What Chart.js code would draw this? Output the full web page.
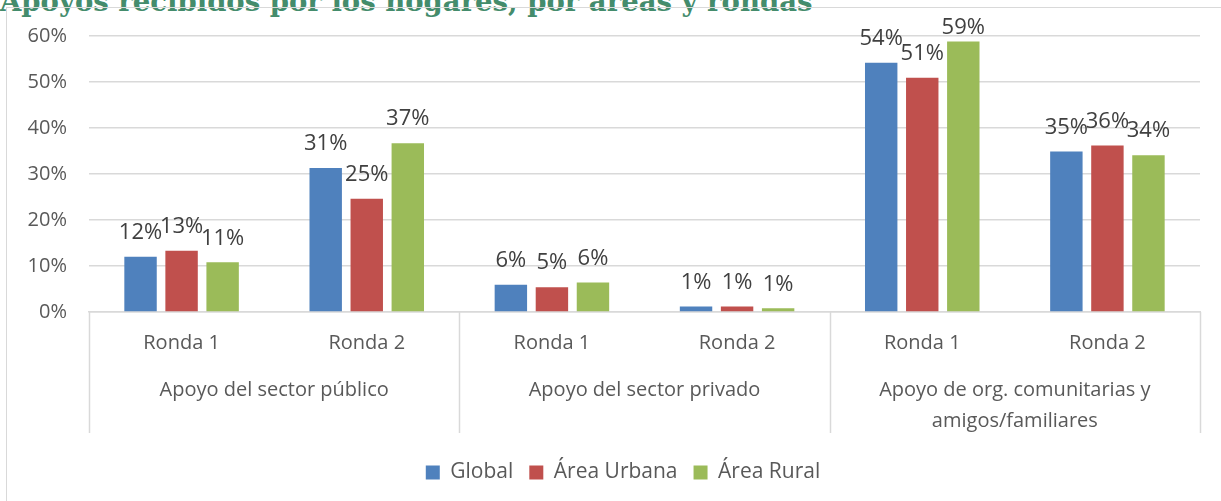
<!DOCTYPE html>
<html lang="es">
<head>
<meta charset="utf-8">
<title>Apoyos recibidos por los hogares</title>
<script src="https://cdn.jsdelivr.net/npm/chart.js@4.4.1/dist/chart.umd.min.js"></script>
<style>
  html, body { margin: 0; padding: 0; background: #fff; overflow: hidden; }
  #titulo {
    position: absolute; left: 0; top: -12px; margin: 0;
    font-family: "DejaVu Serif", serif; font-weight: bold; font-size: 27.5px;
    line-height: 27px; color: #448c6c; white-space: nowrap;
  }
  #marco {
    position: absolute; left: 6px; top: 7px; width: 1300px; height: 600px;
    border: 1px solid #d9d9d9;
  }
  #contenedor { position: absolute; left: 0; top: 0; width: 1221px; height: 501px; }
</style>
</head>
<body>
<div id="titulo">Apoyos recibidos por los hogares, por áreas y rondas</div>
<div id="marco"></div>
<div id="contenedor"><canvas id="grafico"></canvas></div>
<script>
// Categorías (rondas) y grupos de apoyo
const rondas = ['Ronda 1', 'Ronda 2', 'Ronda 1', 'Ronda 2', 'Ronda 1', 'Ronda 2'];
const grupos = [
  'Apoyo del sector público',
  'Apoyo del sector privado',
  ['Apoyo de org. comunitarias y', 'amigos/familiares']
];

// Valores en porcentaje
const global = [12.0, 31.3, 5.9, 1.2, 54.2, 34.9];
const urbana = [13.3, 24.6, 5.4, 1.2, 50.9, 36.2];
const rural  = [10.8, 36.7, 6.4, 0.8, 58.8, 34.1];

const seriesNombres = ['Global', 'Área Urbana', 'Área Rural'];
const colores = ['#4f81bd', '#c0504d', '#9bbb59'];

const ticksY = [0, 10, 20, 30, 40, 50, 60];

const fuente = '"Open Sans", "Noto Sans", sans-serif';
const grisTexto = '#595959';
const grisLinea = '#d9d9d9';

// Etiquetas de datos encima de cada barra
const etiquetasDatos = {
  id: 'etiquetasDatos',
  afterDatasetsDraw(chart) {
    const ctx = chart.ctx;
    ctx.save();
    ctx.font = '22px ' + fuente;
    ctx.fillStyle = '#404040';
    ctx.textAlign = 'center';
    ctx.textBaseline = 'middle';
    chart.data.datasets.forEach((ds, i) => {
      const meta = chart.getDatasetMeta(i);
      meta.data.forEach((bar, j) => {
        let y = bar.y - 24;
        if (y < chart.chartArea.top - 8) y = chart.chartArea.top - 8;
        ctx.fillText(Math.round(ds.data[j]) + '%', bar.x, y);
      });
    });
    ctx.restore();
  }
};

// Líneas separadoras entre grupos en el eje de categorías
const separadores = {
  id: 'separadores',
  afterDraw(chart) {
    const x = chart.scales.x;
    const g = chart.scales.xg;
    const ctx = chart.ctx;
    const n = x.ticks.length;
    const paso = (x.right - x.left) / n;
    ctx.save();
    ctx.strokeStyle = grisLinea;
    ctx.lineWidth = 1.5;
    for (let k = 0; k <= n; k += 2) {
      const px = Math.round(x.left + k * paso) + 0.5;
      ctx.beginPath();
      ctx.moveTo(px, x.top);
      ctx.lineTo(px, g.bottom - 13);
      ctx.stroke();
    }
    ctx.restore();
  }
};

// El marco del gráfico original es más ancho que la ventana: la leyenda queda algo a la derecha
const moverLeyenda = {
  id: 'moverLeyenda',
  afterLayout(chart) {
    chart.legend.left += 23;
    chart.legend.right += 23;
  }
};

const datasets = [global, urbana, rural].map((valores, i) => ({
  label: seriesNombres[i],
  data: valores,
  backgroundColor: colores[i],
  borderWidth: 0,
  categoryPercentage: 0.665,
  barPercentage: 0.79
}));

new Chart(document.getElementById('grafico'), {
  type: 'bar',
  data: { labels: rondas, datasets: datasets },
  plugins: [etiquetasDatos, separadores, moverLeyenda],
  options: {
    responsive: true,
    maintainAspectRatio: false,
    animation: false,
    layout: { padding: { top: 36, right: 21, left: 0, bottom: 8 } },
    scales: {
      x: {
        weight: 0,
        grid: { display: false, drawTicks: false },
        border: { display: true, color: grisLinea, width: 1.5 },
        ticks: { color: grisTexto, font: { family: fuente, size: 20 }, padding: 19, maxRotation: 0 },
        afterFit(scale) { scale.height = 54; }
      },
      xg: {
        type: 'category',
        labels: grupos,
        position: 'bottom',
        weight: 1,
        offset: true,
        grid: { display: false, drawTicks: false },
        border: { display: false },
        ticks: { color: grisTexto, font: { family: fuente, size: 20, lineHeight: 1.55 }, padding: 9, maxRotation: 0, autoSkip: false },
        afterFit(scale) { scale.height = 80; }
      },
      y: {
        min: 0,
        max: 60,
        afterBuildTicks(scale) { scale.ticks = ticksY.map(v => ({ value: v })); },
        grid: { color: grisLinea, lineWidth: 1.5, drawTicks: false },
        border: { display: false },
        ticks: {
          color: grisTexto, font: { family: fuente, size: 20 }, padding: 22,
          callback: v => v + '%'
        },
        afterFit(scale) { scale.width = 89; }
      }
    },
    plugins: {
      legend: {
        position: 'bottom',
        labels: {
          color: grisTexto,
          font: { family: fuente, size: 21 },
          boxWidth: 14,
          boxHeight: 14,
          padding: 16
        }
      },
      tooltip: { enabled: false },
      title: { display: false }
    }
  }
});
</script>
</body>
</html>
